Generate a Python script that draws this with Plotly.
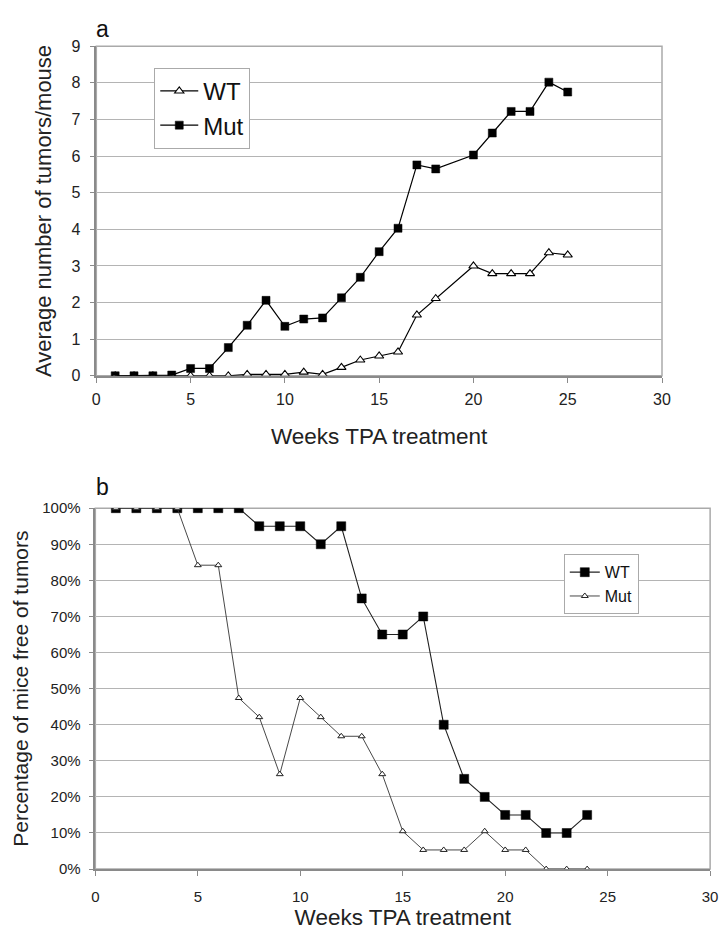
import plotly.graph_objects as go

# ---- Panel a data: average number of tumors per mouse ----
wt_a_weeks = [1, 2, 3, 4, 5, 6, 7, 8, 9, 10, 11, 12, 13, 14, 15, 16, 17, 18, 20, 21, 22, 23, 24, 25]
wt_a_vals = [0, 0, 0, 0, 0, 0, 0, 0.04, 0.04, 0.04, 0.1, 0.04, 0.23, 0.43, 0.54, 0.65, 1.66, 2.11, 3.0, 2.79, 2.79, 2.79, 3.36, 3.3]
mut_a_weeks = [1, 2, 3, 4, 5, 6, 7, 8, 9, 10, 11, 12, 13, 14, 15, 16, 17, 18, 20, 21, 22, 23, 24, 25]
mut_a_vals = [0, 0, 0, 0.02, 0.2, 0.2, 0.77, 1.38, 2.06, 1.35, 1.55, 1.58, 2.13, 2.69, 3.39, 4.03, 5.76, 5.65, 6.03, 6.63, 7.22, 7.22, 8.02, 7.75]

# ---- Panel b data: percentage of mice free of tumors ----
wt_b_weeks = list(range(1, 25))
wt_b_vals = [1.0, 1.0, 1.0, 1.0, 1.0, 1.0, 1.0, 0.95, 0.95, 0.95, 0.90, 0.95, 0.75, 0.65, 0.65, 0.70, 0.40, 0.25, 0.20, 0.15, 0.15, 0.10, 0.10, 0.15]
mut_b_weeks = list(range(1, 25))
mut_b_vals = [1.0, 1.0, 1.0, 1.0, 0.842, 0.842, 0.474, 0.421, 0.263, 0.474, 0.421, 0.368, 0.368, 0.263, 0.105, 0.053, 0.053, 0.053, 0.105, 0.053, 0.053, 0.0, 0.0, 0.0]

x_ticks = [0, 5, 10, 15, 20, 25, 30]
y_ticks_a = list(range(0, 10))
y_ticks_b = [i / 10 for i in range(0, 11)]

W, H = 726, 933
FONT = "Liberation Sans, Arial, Helvetica, sans-serif"

def px_x(p):
    return p / W

def px_y(p):
    return 1 - p / H

fig = go.Figure()

# Panel a
fig.add_trace(go.Scatter(
    x=wt_a_weeks, y=wt_a_vals, name="WT", mode="lines+markers",
    line=dict(color="black", width=1.2),
    marker=dict(symbol="triangle-up", size=8, color="white", line=dict(color="black", width=1.1)),
    xaxis="x", yaxis="y", legend="legend"))
fig.add_trace(go.Scatter(
    x=mut_a_weeks, y=mut_a_vals, name="Mut", mode="lines+markers",
    line=dict(color="black", width=1.2),
    marker=dict(symbol="square", size=8, color="black", line=dict(color="black", width=0.5)),
    xaxis="x", yaxis="y", legend="legend"))

# Panel b
fig.add_trace(go.Scatter(
    x=wt_b_weeks, y=wt_b_vals, name="WT", mode="lines+markers",
    line=dict(color="#222", width=1.1),
    marker=dict(symbol="square", size=9, color="black", line=dict(color="black", width=0.5)),
    xaxis="x2", yaxis="y2", legend="legend2"))
fig.add_trace(go.Scatter(
    x=mut_b_weeks, y=mut_b_vals, name="Mut", mode="lines+markers",
    line=dict(color="#333", width=0.9),
    marker=dict(symbol="triangle-up", size=6, color="white", line=dict(color="#222", width=1)),
    xaxis="x2", yaxis="y2", legend="legend2"))

grid_col = "#b4b4b4"
axis_col = "#8a8a8a"

ax_common = dict(showline=True, linecolor=axis_col, linewidth=1.5, ticks="outside",
                 ticklen=5, tickcolor=axis_col, tickwidth=1, zeroline=False)

fig.update_layout(
    width=W, height=H,
    margin=dict(l=0, r=0, t=0, b=0),
    paper_bgcolor="white", plot_bgcolor="white",
    font=dict(family=FONT, color="#222"),
    showlegend=True,
    xaxis=dict(domain=[px_x(94), px_x(670)], anchor="y", range=[0, 30], tickvals=x_ticks,
               showgrid=False, tickfont=dict(size=16), ticklabelstandoff=3,
               title=dict(text="Weeks TPA treatment", font=dict(size=22.5), standoff=22), **ax_common),
    yaxis=dict(domain=[px_y(374), px_y(38)], anchor="x", range=[0, 9], tickvals=y_ticks_a,
               showgrid=True, gridcolor=grid_col, gridwidth=1.2, tickfont=dict(size=16),
               ticklabelstandoff=6,
               title=dict(text="Average number of tumors/mouse", font=dict(size=22), standoff=14), **ax_common),
    xaxis2=dict(domain=[px_x(93), px_x(719)], anchor="y2", range=[0, 30], tickvals=x_ticks,
                showgrid=False, tickfont=dict(size=15), ticklabelstandoff=8,
                title=dict(text="Weeks TPA treatment", font=dict(size=22.5), standoff=5), **ax_common),
    yaxis2=dict(domain=[px_y(877), px_y(509)], anchor="x2", range=[0, 1], tickvals=y_ticks_b,
                tickformat=".0%", showgrid=True, gridcolor=grid_col, gridwidth=1.2,
                tickfont=dict(size=15), ticklabelstandoff=5,
                title=dict(text="Percentage of mice free of tumors", font=dict(size=21), standoff=8), **ax_common),
    legend=dict(x=px_x(153), y=px_y(60), xanchor="left", yanchor="top",
                bgcolor="white", bordercolor="#aaa", borderwidth=1,
                font=dict(size=24, color="#111"), itemwidth=38, tracegroupgap=0),
    legend2=dict(x=px_x(570), y=px_y(556), xanchor="left", yanchor="top",
                 bgcolor="white", bordercolor="#aaa", borderwidth=1,
                 font=dict(size=16, color="#111"), itemwidth=30, tracegroupgap=0),
    annotations=[
        dict(text="a", x=px_x(100), y=px_y(20), xref="paper", yref="paper",
             xanchor="center", yanchor="middle",
             showarrow=False, font=dict(size=23, color="#111")),
        dict(text="b", x=px_x(100), y=px_y(487), xref="paper", yref="paper",
             xanchor="center", yanchor="middle",
             showarrow=False, font=dict(size=23, color="#111")),
    ],
    shapes=[
        dict(type="rect", xref="x domain", yref="y domain", x0=0, x1=1, y0=0, y1=1,
             line=dict(color="#aaa", width=1.5), layer="below"),
        dict(type="rect", xref="x2 domain", yref="y2 domain", x0=0, x1=1, y0=0, y1=1,
             line=dict(color="#aaa", width=1.5), layer="below"),
    ],
)

fig.write_html("out.html")
